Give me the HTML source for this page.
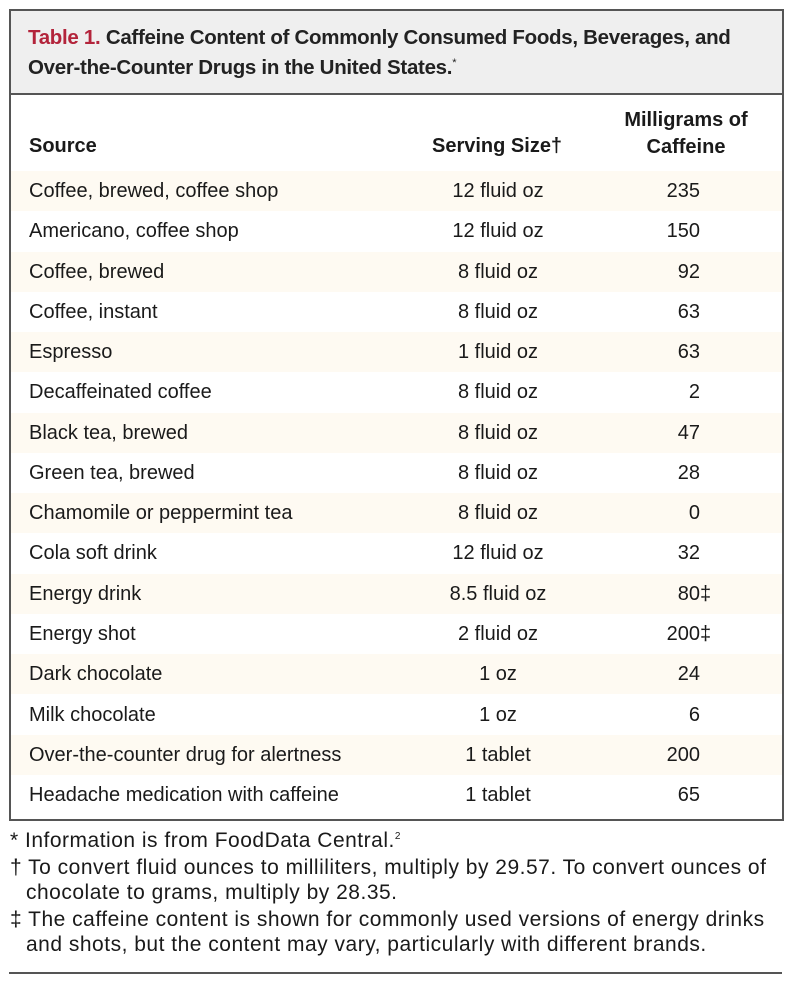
<!DOCTYPE html>
<html><head><meta charset="utf-8"><style>
body{margin:0;width:792px;height:984px;background:#fff;font-family:"Liberation Sans",sans-serif;color:#1a1a1a;position:relative;overflow:hidden}
.box{position:absolute;left:9px;top:9px;width:771px;height:808px;border:2px solid #555;box-sizing:content-box}
.hd{position:absolute;left:0;top:0;width:771px;height:82px;background:#efefef;border-bottom:2px solid #555}
.t{position:absolute;left:17px;font-size:20.5px;font-weight:bold;color:#222;letter-spacing:-0.3px;white-space:nowrap}
.r{position:absolute;left:0;width:771px;height:40px}
.s{position:absolute;left:18px;font-size:20px;white-space:nowrap;line-height:40px}
.v{position:absolute;width:200px;left:387px;text-align:center;font-size:20px;line-height:40px}
.m{position:absolute;right:82px;font-size:20px;line-height:40px}
.f{position:absolute;left:10px;font-size:21px;letter-spacing:0.5px;white-space:nowrap}
</style></head><body>
<div class="box">
<div class="hd">
<div class="t" style="top:15px"><span style="color:#b3243b">Table 1.</span> Caffeine Content of Commonly Consumed Foods, Beverages, and</div>
<div class="t" style="top:45px">Over-the-Counter Drugs in the United States.<sup style="font-size:11px;font-weight:normal">*</sup></div>
</div>
<div style="position:absolute;left:18px;top:124px;font-size:20px;font-weight:bold">Source</div>
<div style="position:absolute;left:421px;top:124px;font-size:20px;font-weight:bold">Serving Size†</div>
<div style="position:absolute;left:600px;width:150px;text-align:center;top:96px;font-size:20px;font-weight:bold;line-height:27px">Milligrams of<br>Caffeine</div>
<div id="rows"></div>
</div>
<div class="f" style="left:10px;top:829px">* Information is from FoodData Central.<sup style="font-size:10px">2</sup></div>
<div class="f" style="top:856px">† To convert fluid ounces to milliliters, multiply by 29.57. To convert ounces of</div>
<div class="f" style="top:881px;left:26px">chocolate to grams, multiply by 28.35.</div>
<div class="f" style="top:908px">‡ The caffeine content is shown for commonly used versions of energy drinks</div>
<div class="f" style="top:933px;left:26px">and shots, but the content may vary, particularly with different brands.</div>
<div style="position:absolute;left:9px;top:972px;width:773px;height:2px;background:#555"></div>
<script>
var d=[["Coffee, brewed, coffee shop","12 fluid oz","235"],["Americano, coffee shop","12 fluid oz","150"],["Coffee, brewed","8 fluid oz","92"],["Coffee, instant","8 fluid oz","63"],["Espresso","1 fluid oz","63"],["Decaffeinated coffee","8 fluid oz","2"],["Black tea, brewed","8 fluid oz","47"],["Green tea, brewed","8 fluid oz","28"],["Chamomile or peppermint tea","8 fluid oz","0"],["Cola soft drink","12 fluid oz","32"],["Energy drink","8.5 fluid oz","80<span style='position:absolute'>‡</span>"],["Energy shot","2 fluid oz","200<span style='position:absolute'>‡</span>"],["Dark chocolate","1 oz","24"],["Milk chocolate","1 oz","6"],["Over-the-counter drug for alertness","1 tablet","200"],["Headache medication with caffeine","1 tablet","65"]];
var h="";for(var i=0;i<d.length;i++){var y=160+i*40.27;h+='<div class="r" style="top:'+y+'px;background:'+(i%2==0?'#fefaf2':'#fff')+'"><div class="s">'+d[i][0]+'</div><div class="v">'+d[i][1]+'</div><div class="m">'+d[i][2]+'</div></div>';}
document.getElementById("rows").outerHTML=h;
</script>
</body></html>
